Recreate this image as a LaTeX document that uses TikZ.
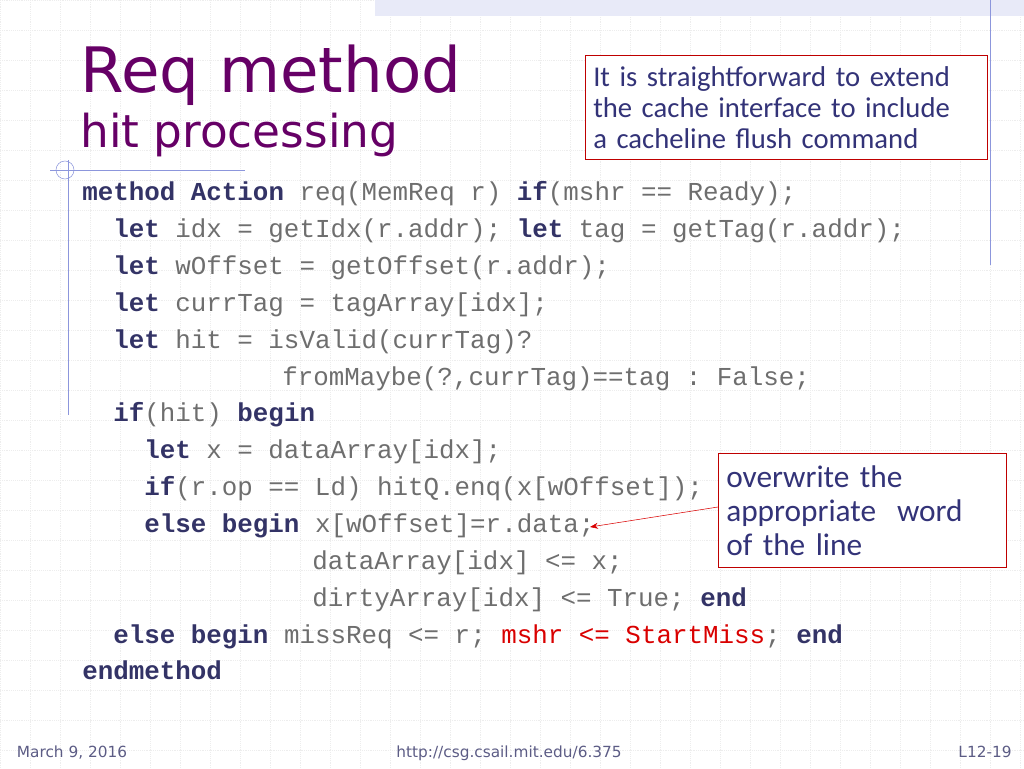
\documentclass[tikz,border=0pt]{standalone}
\usepackage{fontspec}
\setmainfont{DejaVu Sans}
\setmonofont{Liberation Mono}
\newfontfamily\notefont{Carlito}
\usetikzlibrary{positioning, arrows.meta}
\definecolor{titlepurple}{RGB}{102,0,102}
\definecolor{kwblue}{RGB}{51,51,102}
\definecolor{codegray}{RGB}{110,110,110}
\definecolor{noteblue}{RGB}{51,51,120}
\definecolor{lineblue}{RGB}{140,150,220}
\newcommand{\kw}[1]{\textbf{\color{kwblue}#1}}
\newcommand{\hl}[1]{{\color{red!85!black}#1}}
\tikzset{
	codeline/.style={anchor=base west,inner sep=0pt,font=\ttfamily\fontsize{19.4}{20}\selectfont,text=codegray},
	notebox/.style={draw=red!75!black,fill=white,align=left,inner sep=6pt,text=noteblue,anchor=north west},
	footer/.style={font=\fontsize{11.5}{12}\selectfont,text=kwblue!80,anchor=base}
}
\begin{document}
\begin{tikzpicture}[x=0.75pt,y=-0.75pt]
	\useasboundingbox (0,0) rectangle (1024,768);
	% background grid
	\foreach \gx in {0,30,...,1020} \draw[black!7,densely dotted] (\gx,0) -- (\gx,768);
	\foreach \gy in {0,30,...,750} \draw[black!7,densely dotted] (0,\gy) -- (1024,\gy);
	\fill[lineblue!20] (375,0) rectangle (1024,16);
	\draw[lineblue] (990,0) -- (990,265);
	\draw[lineblue] (50,170) -- (245,170);
	\draw[lineblue] (68,160) -- (68,415);
	\draw[lineblue] (65,170) circle (9);
	
	% title
	\node[anchor=base west,inner sep=0pt,text=titlepurple,font=\fontsize{47}{50}\selectfont] (title) at (80,92) {Req method};
	\node[anchor=base west,inner sep=0pt,text=titlepurple,font=\fontsize{34}{36}\selectfont] (subtitle) at (80,147) {hit processing};
	
	\node[notebox,font=\notefont\fontsize{21.5}{23.3}\selectfont,text width=386*0.75pt,minimum height=104*0.75pt] (flushnote) at (585,55) {It is straightforward to extend\\the cache interface to include\\a cacheline flush command};
	
	% code
	\node[codeline] (c1) at (82,200) {\kw{method Action} req(MemReq r) \kw{if}(mshr == Ready);};
	\node[codeline] (c2) at (113,237) {\kw{let} idx = getIdx(r.addr); \kw{let} tag = getTag(r.addr);};
	\node[codeline] (c3) at (113,274) {\kw{let} wOffset = getOffset(r.addr);};
	\node[codeline] (c4) at (113,311) {\kw{let} currTag = tagArray[idx];};
	\node[codeline] (c5) at (113,348) {\kw{let} hit = isValid(currTag)?};
	\node[codeline] (c6) at (282,385) {fromMaybe(?,currTag)==tag : False;};
	\node[codeline] (c7) at (113,421) {\kw{if}(hit) \kw{begin}};
	\node[codeline] (c8) at (144,458) {\kw{let} x = dataArray[idx];};
	\node[codeline] (c9) at (144,495) {\kw{if}(r.op == Ld) hitQ.enq(x[wOffset]);};
	\node[codeline] (c10) at (144,532) {\kw{else begin} x[wOffset]=r.data;};
	\node[codeline] (c11) at (312,569) {dataArray[idx] <= x;};
	\node[codeline] (c12) at (312,606) {dirtyArray[idx] <= True; \kw{end}};
	\node[codeline] (c13) at (113,643) {\kw{else begin} missReq <= r; \hl{mshr <= StartMiss}; \kw{end}};
	\node[codeline] (c14) at (82,679) {\kw{endmethod}};
	
	\node[notebox,font=\notefont\fontsize{23.5}{25.5}\selectfont,text width=272*0.75pt,minimum height=114*0.75pt] (wordnote) at (718,453) {overwrite the\\appropriate\ \ word\\of the line};
	\coordinate (dataend) at (590,527);
	\draw[-{Stealth[length=6pt]},red!85!black] (wordnote.west |- 0,507) -- (dataend);
	
	% footer
	\node[footer] (date) at (72,757) {March 9, 2016};
	\node[footer] (url) at (509,757) {http://csg.csail.mit.edu/6.375};
	\node[footer] (page) at (985,757) {L12-19};
\end{tikzpicture}
\end{document}
